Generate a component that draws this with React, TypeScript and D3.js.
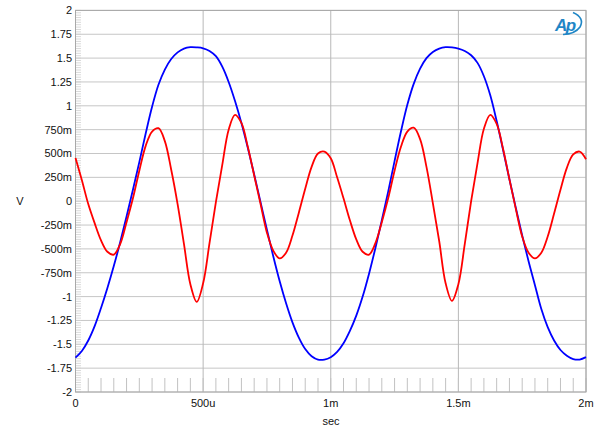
import React from "react"
import * as d3 from "d3"

// time axis in ms, 25u steps
const timeMs = [
    0, 0.025, 0.05, 0.075, 0.1, 0.125, 0.15, 0.175, 0.2, 0.225,
    0.25, 0.275, 0.3, 0.325, 0.35, 0.375, 0.4, 0.425, 0.45, 0.475,
    0.5, 0.525, 0.55, 0.575, 0.6, 0.625, 0.65, 0.675, 0.7, 0.725,
    0.75, 0.775, 0.8, 0.825, 0.85, 0.875, 0.9, 0.925, 0.95, 0.975,
    1.0, 1.025, 1.05, 1.075, 1.1, 1.125, 1.15, 1.175, 1.2, 1.225,
    1.25, 1.275, 1.3, 1.325, 1.35, 1.375, 1.4, 1.425, 1.45, 1.475,
    1.5, 1.525, 1.55, 1.575, 1.6, 1.625, 1.65, 1.675, 1.7, 1.725,
    1.75, 1.775, 1.8, 1.825, 1.85, 1.875, 1.9, 1.925, 1.95, 1.975, 2.0,
]

// blue trace (V)
const blueVolts = [
    -1.64, -1.57, -1.46, -1.31, -1.12, -0.91, -0.68, -0.43, -0.16, 0.12,
    0.41, 0.71, 0.99, 1.22, 1.38, 1.49, 1.56, 1.6, 1.614, 1.612,
    1.603, 1.575, 1.52, 1.41, 1.25, 1.05, 0.82, 0.56, 0.28, -0.01,
    -0.3, -0.58, -0.84, -1.07, -1.27, -1.43, -1.55, -1.625, -1.66, -1.66,
    -1.635, -1.58, -1.49, -1.36, -1.2, -1.0, -0.76, -0.49, -0.2, 0.1,
    0.42, 0.73, 1.01, 1.23, 1.39, 1.5, 1.565, 1.6, 1.614, 1.612,
    1.6, 1.575, 1.53, 1.45, 1.31, 1.11, 0.84, 0.54, 0.23, -0.07,
    -0.36, -0.63, -0.88, -1.13, -1.32, -1.46, -1.56, -1.62, -1.655, -1.66, -1.635,
]

// red trace (V)
const redVolts = [
    0.453, 0.22, -0.03, -0.23, -0.41, -0.53, -0.56, -0.45, -0.22, 0.03,
    0.32, 0.58, 0.73, 0.765, 0.63, 0.33, -0.03, -0.45, -0.87, -1.055,
    -0.86, -0.44, -0.01, 0.38, 0.75, 0.905, 0.82, 0.57, 0.27, -0.03,
    -0.33, -0.52, -0.6, -0.54, -0.36, -0.12, 0.13, 0.36, 0.5, 0.52,
    0.45, 0.25, 0.03, -0.2, -0.4, -0.53, -0.56, -0.44, -0.22, 0.03,
    0.32, 0.57, 0.73, 0.77, 0.65, 0.36, -0.02, -0.42, -0.86, -1.045,
    -0.87, -0.45, 0.0, 0.4, 0.76, 0.905, 0.81, 0.55, 0.23, -0.08,
    -0.37, -0.54, -0.6, -0.54, -0.37, -0.13, 0.12, 0.35, 0.49, 0.52, 0.44,
]

const yTicks = [2, 1.75, 1.5, 1.25, 1, 0.75, 0.5, 0.25, 0, -0.25, -0.5, -0.75, -1, -1.25, -1.5, -1.75, -2]
const yTickLabels = ["2", "1.75", "1.5", "1.25", "1", "750m", "500m", "250m", "0", "-250m", "-500m", "-750m", "-1", "-1.25", "-1.5", "-1.75", "-2"]
const xTicks = [0, 0.5, 1, 1.5, 2]
const xTickLabels = ["0", "500u", "1m", "1.5m", "2m"]

const W = 600
const H = 436
const FONT = "'Liberation Sans', Arial, sans-serif"

export default function App() {
    const x = d3.scaleLinear().domain([0, 2]).range([75.5, 586])
    const y = d3.scaleLinear().domain([-2, 2]).range([392, 10.4])

    const line = d3
        .line<number>()
        .x((_, i) => x(timeMs[i]))
        .y((d) => y(d))
        .curve(d3.curveCatmullRom.alpha(0.5))

    const minorY = d3.range(-2, 2.0001, 0.025)
    const minorX = d3.range(0, 2.0001, 0.05)

    return (
        <svg
            width={W}
            height={H}
            style={{ position: "absolute", left: 0, top: 0, background: "#fff" }}
            fontFamily={FONT}
        >
            {/* horizontal grid */}
            {yTicks.map((t) => (
                <line key={"hg" + t} x1={x(0)} x2={x(2)} y1={y(t)} y2={y(t)} stroke="#c6c6c6" strokeWidth={1} />
            ))}
            {/* vertical grid */}
            {xTicks.map((t) => (
                <line key={"vg" + t} x1={x(t)} x2={x(t)} y1={y(-2)} y2={y(2)} stroke="#b8b8b8" strokeWidth={1} />
            ))}
            {/* minor ticks */}
            {minorY.map((t, i) => (
                <line key={"my" + i} x1={x(0)} x2={x(0) + 5.5} y1={y(t)} y2={y(t)} stroke="#cfcfcf" strokeWidth={0.8} />
            ))}
            {minorX.map((t, i) => (
                <line key={"mx" + i} x1={x(t)} x2={x(t)} y1={y(-2)} y2={y(-2) - 14} stroke="#c2c2c2" strokeWidth={1} />
            ))}
            <rect x={x(0)} y={y(2)} width={x(2) - x(0)} height={y(-2) - y(2)} fill="none" stroke="#a8a8a8" strokeWidth={1} />

            {/* traces */}
            <path d={line(blueVolts) ?? ""} fill="none" stroke="#0000ff" strokeWidth={1.8} />
            <path d={line(redVolts) ?? ""} fill="none" stroke="#ff0000" strokeWidth={1.8} />

            {/* y labels */}
            {yTicks.map((t, i) => (
                <text key={"yl" + t} x={72} y={y(t)} dy="0.36em" textAnchor="end" fontSize={11} fill="#111">
                    {yTickLabels[i]}
                </text>
            ))}
            {/* x labels */}
            {xTicks.map((t, i) => (
                <text key={"xl" + t} x={x(t)} y={407} textAnchor="middle" fontSize={11} fill="#111">
                    {xTickLabels[i]}
                </text>
            ))}
            <text x={20} y={205} textAnchor="middle" fontSize={11} fill="#111">V</text>
            <text x={331} y={425} textAnchor="middle" fontSize={11} fill="#111">sec</text>

            {/* logo */}
            <g>
                <text x={555} y={31} fontSize={17} fontStyle="italic" fontWeight="bold" fill="#1f86c6" letterSpacing={-1.5}>
                    Ap
                </text>
                <path d="M 573 12.5 Q 585 18 580 27 Q 575 34 563 34.5" fill="none" stroke="#1f86c6" strokeWidth={1.6} />
            </g>
        </svg>
    )
}
